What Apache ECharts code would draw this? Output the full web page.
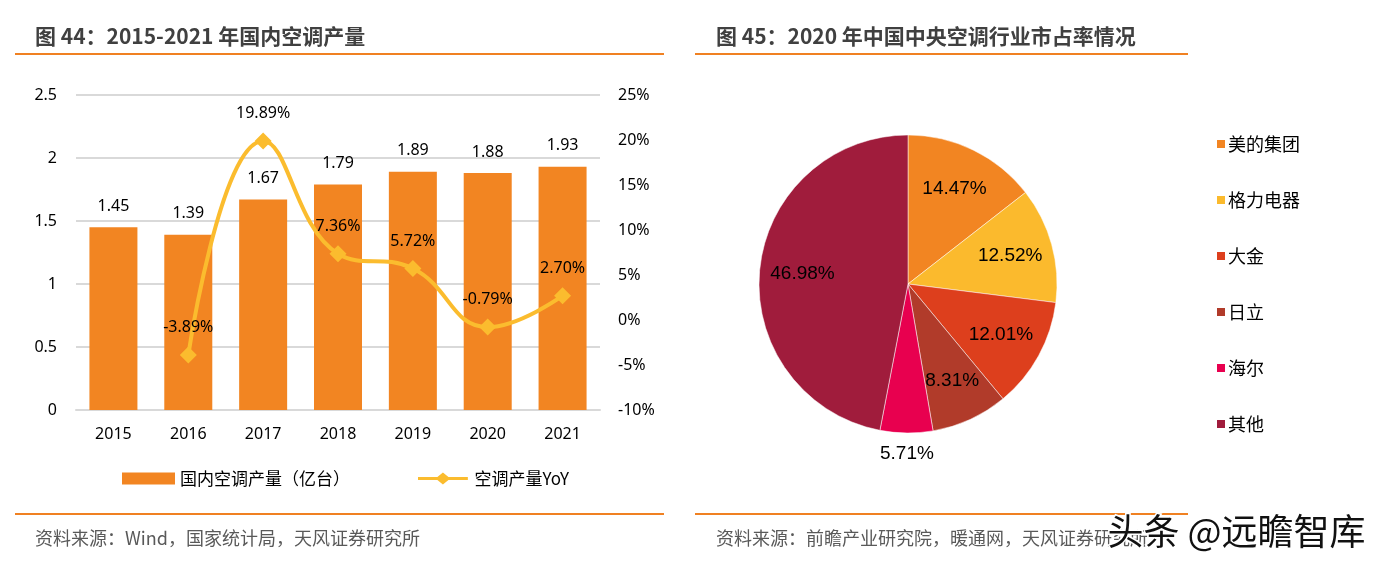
<!DOCTYPE html>
<html><head><meta charset="utf-8">
<script src="https://cdn.jsdelivr.net/npm/echarts@6/dist/echarts.min.js"></script>
<style>html,body{margin:0;padding:0;background:#fff}#c{width:1378px;height:568px}</style>
</head><body><div id="c"></div>
<script>
// ---- data ----
const years = ['2015','2016','2017','2018','2019','2020','2021'];
const output = [1.45, 1.39, 1.67, 1.79, 1.89, 1.88, 1.93];          // 亿台
const yoy = [null, -3.89, 19.89, 7.36, 5.72, -0.79, 2.70];          // %
const barName = '国内空调产量（亿台）';
const lineName = '空调产量YoY';
const shareNames = ['美的集团', '格力电器', '大金', '日立', '海尔', '其他'];
const shareValues = [14.47, 12.52, 12.01, 8.31, 5.71, 46.98];
const shareColors = ['#F28522', '#FBBA2D', '#DD3F1D', '#B13B2A', '#E8004F', '#A01C3C'];

const NUM = '"Noto Sans", "Noto Sans CJK SC", sans-serif';
const CJK = '"Noto Sans CJK SC", "Noto Sans", sans-serif';
const TITLE = '"Liberation Sans Narrow", "Noto Sans CJK SC", sans-serif';
const ORANGE = '#F08122';

const pieData = shareNames.map((n, i) => ({ name: n, value: shareValues[i], itemStyle: { color: shareColors[i] } }));
const pieLabelData = shareNames.map((n, i) => ({ name: n, value: shareValues[i] }));

const chart = echarts.init(document.getElementById('c'), null, { renderer: 'canvas' });
chart.setOption({
  animation: false,
  backgroundColor: '#fff',
  title: [
    { text: '图 44：2015-2021 年国内空调产量', left: 30, top: 21, textStyle: { fontFamily: TITLE, fontSize: 21, fontWeight: 'bold', color: '#404040' } },
    { text: '图 45：2020 年中国中央空调行业市占率情况', left: 711, top: 21, textStyle: { fontFamily: TITLE, fontSize: 21, fontWeight: 'bold', color: '#404040' } },
    { text: '资料来源：Wind，国家统计局，天风证券研究所', left: 30, top: 524, textStyle: { fontFamily: CJK, fontSize: 18, fontWeight: 'normal', color: '#595959' } },
    { text: '资料来源：前瞻产业研究院，暖通网，天风证券研究所', left: 711, top: 524, textStyle: { fontFamily: CJK, fontSize: 18, fontWeight: 'normal', color: '#595959' } }
  ],
  graphic: [
    { type: 'line', shape: { x1: 15, y1: 54, x2: 664, y2: 54 }, style: { stroke: ORANGE, lineWidth: 2 } },
    { type: 'line', shape: { x1: 695, y1: 54, x2: 1188, y2: 54 }, style: { stroke: ORANGE, lineWidth: 2 } },
    { type: 'line', shape: { x1: 15, y1: 514, x2: 664, y2: 514 }, style: { stroke: ORANGE, lineWidth: 2 } },
    { type: 'line', shape: { x1: 695, y1: 514, x2: 1188, y2: 514 }, style: { stroke: ORANGE, lineWidth: 2 } },
    { type: 'text', left: 1106, top: 512, z: 100, style: { text: '头条 @远瞻智库', font: '36px "Noto Sans CJK SC"', fill: '#111', stroke: '#fff', lineWidth: 3 } }
  ],
  legend: [
    {
      data: [
        { name: barName, icon: 'rect' },
        { name: lineName, icon: 'path://M0,5 L21,5 L27,0 L33,5 L54,5 L54,8 L33,8 L27,13 L21,8 L0,8 Z' }
      ],
      left: 117, top: 465, itemWidth: 53, itemHeight: 12, itemGap: 68,
      textStyle: { fontFamily: CJK, fontSize: 17, color: '#000' }
    },
    {
      data: shareNames, orient: 'vertical', left: 1210, top: 130, icon: 'rect',
      itemWidth: 10, itemHeight: 10, itemGap: 38,
      textStyle: { fontFamily: CJK, fontSize: 18, lineHeight: 18, color: '#000', padding: [0, 0, 0, -3] }
    }
  ],
  grid: { left: 76, right: 778, top: 95, bottom: 158, containLabel: false },
  xAxis: {
    type: 'category', data: years,
    axisLine: { show: true, lineStyle: { color: '#D9D9D9', width: 2 } },
    axisTick: { show: false },
    axisLabel: { fontFamily: NUM, fontSize: 16, color: '#000', margin: 16 }
  },
  yAxis: [
    {
      type: 'value', min: 0, max: 2.5, interval: 0.5,
      axisLine: { show: false }, axisTick: { show: false },
      splitLine: { lineStyle: { color: '#D9D9D9', width: 2 } },
      axisLabel: { fontFamily: NUM, fontSize: 16, color: '#000', margin: 19 }
    },
    {
      type: 'value', min: -10, max: 25, interval: 5,
      axisLine: { show: false }, axisTick: { show: false }, splitLine: { show: false },
      axisLabel: { fontFamily: NUM, fontSize: 16, color: '#000', margin: 18, formatter: '{value}%' }
    }
  ],
  series: [
    {
      name: barName, type: 'bar', data: output, barWidth: 48,
      itemStyle: { color: '#F28522' },
      label: { show: true, position: 'top', distance: 13, fontFamily: NUM, fontSize: 16, color: '#000', formatter: p => p.value.toFixed(2) }
    },
    {
      name: lineName, type: 'line', yAxisIndex: 1, data: yoy, smooth: 0.45,
      symbol: 'diamond', symbolSize: 17, connectNulls: false,
      itemStyle: { color: '#FBBC2E' }, lineStyle: { color: '#FBBC2E', width: 4 },
      label: { show: true, position: 'top', distance: 11, fontFamily: NUM, fontSize: 16, color: '#000', formatter: p => p.value.toFixed(2) + '%' }
    },
    {
      name: 'share', type: 'pie', center: [908, 284], radius: 149, startAngle: 90, clockwise: true,
      data: pieData, label: { show: false }, labelLine: { show: false },
      itemStyle: { borderColor: '#fff', borderWidth: 0.5 },
      emphasis: { disabled: true }
    },
    {
      name: 'shareLabels', type: 'pie', center: [908, 284], radius: 206, startAngle: 90, clockwise: true,
      data: pieLabelData, silent: true, z: 5,
      itemStyle: { color: 'rgba(0,0,0,0)' },
      label: { show: true, position: 'inner', fontFamily: '"Liberation Sans", Arial, sans-serif', fontSize: 19, color: '#000', formatter: p => p.value.toFixed(2) + '%' },
      labelLine: { show: false },
      labelLayout: p => (p.dataIndex === 4 ? { dy: 64 } : {}),
      emphasis: { disabled: true }
    }
  ]
});
</script>
</body></html>
